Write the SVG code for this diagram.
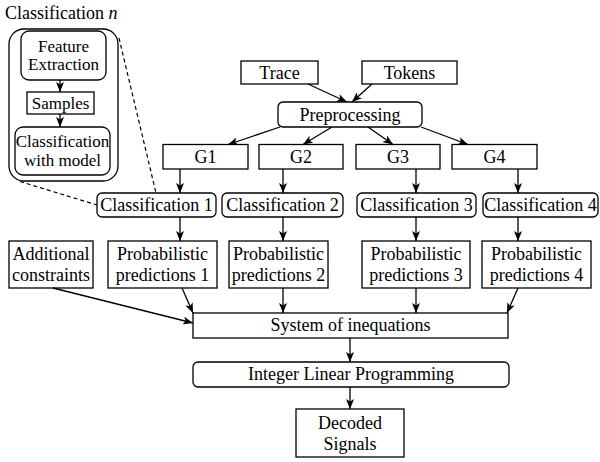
<svg xmlns="http://www.w3.org/2000/svg" width="600" height="462" viewBox="0 0 600 462">
<defs>
<marker id="ah" markerWidth="10" markerHeight="8" refX="10" refY="4" orient="auto" markerUnits="userSpaceOnUse">
<path d="M0,0 L10,4 L0,8 L2.5,4 Z" fill="#000"/>
</marker>
<style>
.b{fill:#fff;stroke:#000;stroke-width:1.3}
.o{fill:none;stroke:#000;stroke-width:1.3}
.t{font-size:18px;fill:#000;text-anchor:middle}
.s{font-size:17px}
.c{stroke:#000;stroke-width:1.3;fill:none;marker-end:url(#ah)}
.d{stroke:#000;stroke-width:1.2;fill:none;stroke-dasharray:4 3}
</style>
</defs>
<rect width="600" height="462" fill="#fff"/>
<g font-family="'Liberation Serif', 'Times New Roman', Tinos, 'DejaVu Serif', serif">

<g id="classification-n">
<text class="t" x="5" y="19" style="text-anchor:start">Classification <tspan font-style="italic">n</tspan></text>
<rect class="o" x="9" y="29" width="109" height="152" rx="15"/>
</g>
<g id="feature-extraction">
<rect class="b" x="21" y="31" width="85" height="49" rx="8"/>
<text class="t s" x="63.5" y="52">Feature</text>
<text class="t s" x="63.5" y="70">Extraction</text>
</g>
<g id="samples">
<rect class="b" x="27" y="92" width="67" height="22"/>
<text class="t s" x="60.5" y="109">Samples</text>
</g>
<g id="classification-with-model">
<rect class="b" x="15" y="127" width="95" height="48" rx="8"/>
<text class="t s" x="62.5" y="147">Classification</text>
<text class="t s" x="62.5" y="166">with model</text>
</g>

<g id="trace">
<rect class="b" x="241" y="61" width="77" height="23"/>
<text class="t" x="279.5" y="79">Trace</text>
</g>
<g id="tokens">
<rect class="b" x="362" y="61" width="95" height="23"/>
<text class="t" x="409.5" y="79">Tokens</text>
</g>
<g id="preprocessing">
<rect class="b" x="278" y="102" width="144" height="25" rx="5"/>
<text class="t" x="350" y="121">Preprocessing</text>
</g>

<g id="g1"><rect class="b" x="163" y="144.5" width="85" height="24.5"/><text class="t" x="205.5" y="163">G1</text></g>
<g id="g2"><rect class="b" x="259" y="144.5" width="84" height="24.5"/><text class="t" x="301" y="163">G2</text></g>
<g id="g3"><rect class="b" x="356" y="144.5" width="84" height="24.5"/><text class="t" x="398" y="163">G3</text></g>
<g id="g4"><rect class="b" x="452" y="144.5" width="85" height="24.5"/><text class="t" x="494.5" y="163">G4</text></g>

<g id="class1"><rect class="b" x="97" y="193" width="119" height="24" rx="5"/><text class="t" x="156.5" y="211">Classification 1</text></g>
<g id="class2"><rect class="b" x="222" y="193" width="121" height="24" rx="5"/><text class="t" x="282.5" y="211">Classification 2</text></g>
<g id="class3"><rect class="b" x="357" y="193" width="119" height="24" rx="5"/><text class="t" x="416.5" y="211">Classification 3</text></g>
<g id="class4"><rect class="b" x="483" y="193" width="115" height="24" rx="5"/><text class="t" x="540.5" y="211">Classification 4</text></g>

<g id="additional"><rect class="b" x="9" y="241" width="84" height="47"/><text class="t" x="51" y="260">Additional</text><text class="t" x="51" y="281">constraints</text></g>
<g id="prob1"><rect class="b" x="108" y="241" width="109" height="47"/><text class="t" x="162.5" y="260">Probabilistic</text><text class="t" x="162.5" y="281">predictions 1</text></g>
<g id="prob2"><rect class="b" x="229" y="241" width="99" height="47"/><text class="t" x="278.5" y="260">Probabilistic</text><text class="t" x="278.5" y="281">predictions 2</text></g>
<g id="prob3"><rect class="b" x="362" y="241" width="108" height="47"/><text class="t" x="416" y="260">Probabilistic</text><text class="t" x="416" y="281">predictions 3</text></g>
<g id="prob4"><rect class="b" x="482" y="241" width="109" height="47"/><text class="t" x="536.5" y="260">Probabilistic</text><text class="t" x="536.5" y="281">predictions 4</text></g>

<g id="system"><rect class="b" x="193" y="313" width="315" height="25"/><text class="t" x="350.5" y="331">System of inequations</text></g>
<g id="ilp"><rect class="b" x="193" y="362" width="316" height="25" rx="5"/><text class="t" x="351" y="380">Integer Linear Programming</text></g>
<g id="decoded"><rect class="b" x="296" y="409" width="108" height="48"/><text class="t" x="350" y="429">Decoded</text><text class="t" x="350" y="450">Signals</text></g>
</g>

<g id="connectors">
<line class="d" x1="119" y1="38" x2="156" y2="193"/>
<line class="d" x1="20" y1="181.5" x2="97" y2="205"/>
<line class="c" x1="60" y1="80" x2="60" y2="92"/>
<line class="c" x1="60" y1="114" x2="60" y2="127"/>
<line class="c" x1="308" y1="84" x2="347" y2="102"/>
<line class="c" x1="372" y1="84" x2="352" y2="102"/>
<line class="c" x1="280" y1="127" x2="228" y2="144.5"/>
<line class="c" x1="332" y1="127" x2="303" y2="144.5"/>
<line class="c" x1="368" y1="127" x2="393" y2="144.5"/>
<line class="c" x1="421" y1="127" x2="468" y2="144.5"/>
<line class="c" x1="180" y1="169" x2="180" y2="193"/>
<line class="c" x1="283" y1="169" x2="283" y2="193"/>
<line class="c" x1="416" y1="169" x2="416" y2="193"/>
<line class="c" x1="518" y1="169" x2="518" y2="193"/>
<line class="c" x1="180" y1="217" x2="180" y2="241"/>
<line class="c" x1="283" y1="217" x2="283" y2="241"/>
<line class="c" x1="416" y1="217" x2="416" y2="241"/>
<line class="c" x1="518" y1="217" x2="518" y2="241"/>
<line class="c" x1="182" y1="288" x2="193" y2="313"/>
<line class="c" x1="283" y1="288" x2="283" y2="313"/>
<line class="c" x1="416" y1="288" x2="416" y2="313"/>
<line class="c" x1="518" y1="288" x2="507" y2="313"/>
<line class="c" x1="53" y1="288" x2="193" y2="323"/>
<line class="c" x1="350" y1="338" x2="350" y2="362"/>
<line class="c" x1="350" y1="387" x2="350" y2="409"/>
</g>
</svg>
